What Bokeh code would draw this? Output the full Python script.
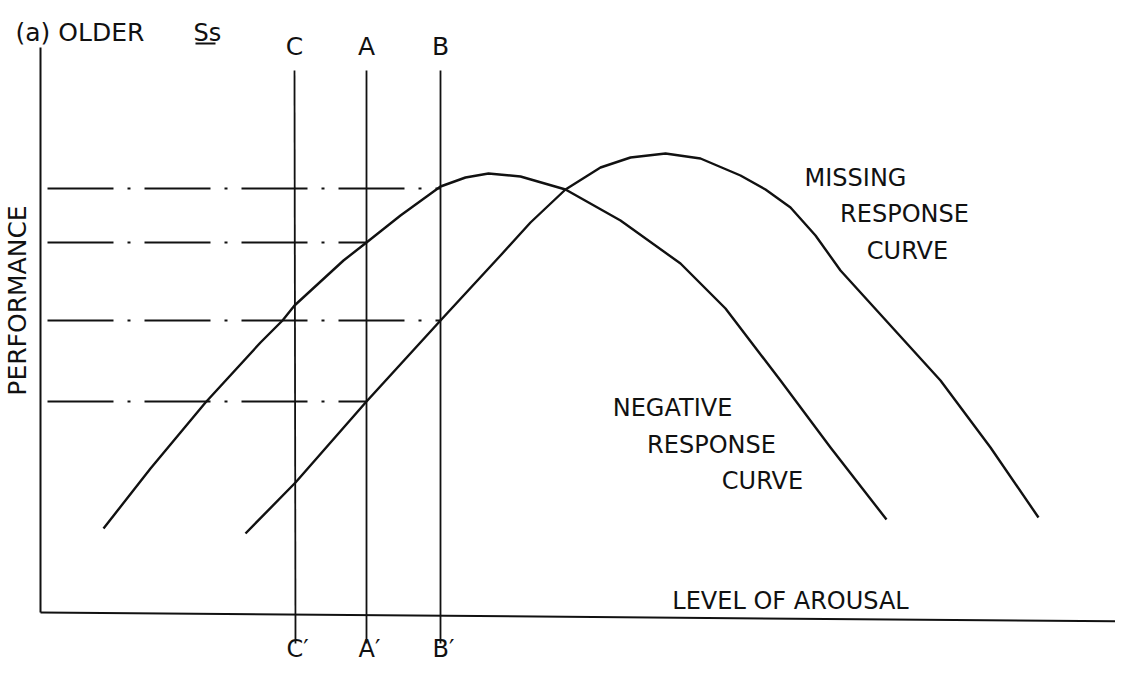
from bokeh.plotting import figure
from bokeh.models import Range1d
from bokeh.core.properties import value
from bokeh.embed import file_html
from bokeh.resources import INLINE
import math

# ---- data (arbitrary units: x = level of arousal, y = performance) ----
neg_x = [63, 110, 165, 220, 242, 254, 303, 326, 360, 400, 425, 448, 480, 525, 580, 640, 685, 740, 790, 846]
neg_y = [84, 144, 210, 270, 292, 307, 352, 370, 397, 426, 435, 439, 436, 423, 392, 349, 304, 232, 165, 93]

miss_x = [205, 255, 326, 400, 460, 490, 525, 560, 590, 625, 660, 700, 725, 750, 775, 800, 900, 950, 998]
miss_y = [79, 130, 211, 292, 357, 390, 423, 445, 455, 459, 454, 437, 423, 405, 377, 342, 232, 165, 95]

stim_names = ["C", "A", "B"]
stim_x = [254, 326, 400]
stim_top = 542
stim_bottom = -31

level_y = [424, 370, 292, 211]
level_end = [400, 326, 400, 326]
level_start = 7

FONT = value("DejaVu Sans")
INK = "#111111"

p = figure(width=1115, height=663, output_backend="svg", toolbar_location=None,
           x_range=Range1d(-40, 1075), y_range=Range1d(-51, 612),
           min_border=0, outline_line_color=None,
           x_axis_location=None, y_axis_location=None)
p.grid.visible = False
p.background_fill_color = "white"
p.border_fill_color = "white"

# axes
p.line([0, 0], [0, 565], line_color=INK, line_width=2)
p.line([0, 1095], [0, -9], line_color=INK, line_width=2)

# stimulus lines with labels
for nm, x in zip(stim_names, stim_x):
    p.line([x, x + (1 if nm == "C" else 0)], [stim_top, stim_bottom], line_color=INK, line_width=1.8)
    p.text([x], [566], text=[nm], text_align="center", text_baseline="middle",
           text_font=FONT, text_font_size="25px", text_color=INK)
    p.text([x + 3], [-50], text=[nm + "\u2032"], text_align="center", text_baseline="bottom",
           text_font=FONT, text_font_size="24px", text_color=INK)

# dash-dot performance level lines
for y, xe in zip(level_y, level_end):
    p.line([level_start, xe], [y, y], line_color=INK, line_width=1.8, line_dash="66 14 3 14")

# curves
p.line(neg_x, neg_y, line_color=INK, line_width=2.4, line_join="round")
p.line(miss_x, miss_y, line_color=INK, line_width=2.4, line_join="round")

# titles / labels
p.text([-25], [580], text=["(a) OLDER"], text_align="left", text_baseline="middle",
       text_font=FONT, text_font_size="25px", text_color=INK)
p.text([153], [580], text=["Ss"], text_align="left", text_baseline="middle",
       text_font=FONT, text_font_size="24px", text_color=INK)
p.line([155, 175], [569, 569], line_color=INK, line_width=2.2)

p.text([-23], [312], text=["PERFORMANCE"], angle=math.pi / 2, text_align="center",
       text_baseline="middle", text_font=FONT, text_font_size="25px", text_color=INK)
p.text([750], [12], text=["LEVEL OF AROUSAL"], text_align="center", text_baseline="middle",
       text_font=FONT, text_font_size="24px", text_color=INK)

for t, x, y in [("MISSING", 815, 435), ("RESPONSE", 864, 399), ("CURVE", 867, 362),
                ("NEGATIVE", 632, 205), ("RESPONSE", 671, 168), ("CURVE", 722, 132)]:
    p.text([x], [y], text=[t], text_align="center", text_baseline="middle",
           text_font=FONT, text_font_size="24px", text_color=INK)

open("out.html", "w").write(file_html(p, INLINE))
